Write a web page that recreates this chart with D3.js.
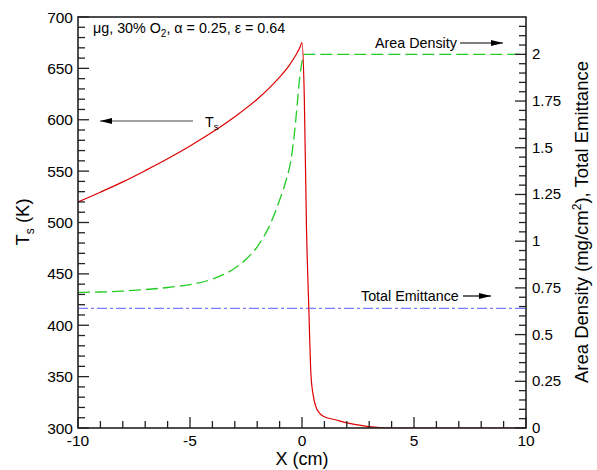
<!DOCTYPE html>
<html><head><meta charset="utf-8">
<script src="https://cdn.jsdelivr.net/npm/d3@7"></script>
<style>body{margin:0;background:#fff}svg{display:block}text{font-family:"Liberation Sans",Arial,sans-serif;fill:#000}</style>
</head><body><svg id="c" width="597" height="470"></svg>
<script>
// Surface temperature T_s (K) vs X (cm)
const tsX = [-10,-9,-8,-7,-6,-5,-4,-3,-2,-1.5,-1,-0.6,-0.3,-0.1,0,0.1,0.2,0.3,0.4,0.5,0.6,0.8,1.0,1.5,2,2.5,3,3.5,4,5,10];
const tsValues = [520,529.5,539.5,550.5,562,574.5,588,603,620,630,641.5,652,662,670,675,625,495,420,352,332,322,314,311,308,305,303,301.3,300.4,300,300,300];
// Area density (mg/cm^2) vs X
const adX = [-10,-9,-8,-7,-6,-5,-4,-3.5,-3,-2.5,-2,-1.5,-1,-0.7,-0.5,-0.3,-0.2,-0.1,0,0.1,10];
const adValues = [0.726,0.728,0.733,0.741,0.752,0.768,0.797,0.822,0.855,0.903,0.97,1.07,1.22,1.33,1.43,1.62,1.75,1.88,1.96,2.0,2.0];
// Total emittance
const emX = [-10,10];
const emValues = [0.64,0.64];
// Axis ticks
const xTickLabels = [-10,-5,0,5,10];
const yLeftTickLabels = [300,350,400,450,500,550,600,650,700];
const yRightTickLabels = [0,0.25,0.5,0.75,1,1.25,1.5,1.75,2];

const svg = d3.select("#c");
const L=78, R=526, T=17, B=428;
const x = d3.scaleLinear().domain([-10,10]).range([L,R]);
const yL = d3.scaleLinear().domain([300,700]).range([B,T]);
const yR = d3.scaleLinear().domain([0,2.2]).range([B,T]);

svg.append("defs").append("marker").attr("id","ah").attr("viewBox","0 0 12 6")
  .attr("refX",12).attr("refY",3).attr("markerWidth",12).attr("markerHeight",6)
  .attr("markerUnits","userSpaceOnUse").attr("orient","auto")
  .append("path").attr("d","M0,0L12,3L0,6Z").attr("fill","#000");

// curves
svg.append("clipPath").attr("id","clp").append("rect").attr("x",L).attr("y",T).attr("width",R-L).attr("height",B-T);
const g = svg.append("g").attr("clip-path","url(#clp)");
g.append("path").datum(emX.map((v,i)=>[v,emValues[i]]))
  .attr("d",d3.line().x(d=>x(d[0])).y(d=>yR(d[1])))
  .attr("fill","none").attr("stroke","#7b7bff").attr("stroke-width",1.3).attr("stroke-dasharray","10,3,3,3");
g.append("path").datum(adX.map((v,i)=>[v,adValues[i]]))
  .attr("d",d3.line().x(d=>x(d[0])).y(d=>yR(d[1])).curve(d3.curveMonotoneX))
  .attr("fill","none").attr("stroke","#22cc22").attr("stroke-width",1.3).attr("stroke-dasharray","12,5");
g.append("path").datum(tsX.map((v,i)=>[v,tsValues[i]]))
  .attr("d",d3.line().x(d=>x(d[0])).y(d=>yL(d[1])).curve(d3.curveMonotoneX))
  .attr("fill","none").attr("stroke","#dd0000").attr("stroke-width",1.2);

// axes
const ax = svg.append("g").attr("stroke","#222").attr("stroke-width",1.3);
ax.append("rect").attr("x",L).attr("y",T).attr("width",R-L).attr("height",B-T).attr("fill","none").attr("stroke-width",1.6);
d3.range(-10,10.01,1).forEach(v=>{const maj = xTickLabels.includes(v);
  ax.append("line").attr("x1",x(v)).attr("x2",x(v)).attr("y1",B).attr("y2",B-(maj?11:7));});
d3.range(300,700.01,10).forEach(v=>{const maj = v%50===0;
  ax.append("line").attr("x1",L).attr("x2",L+(maj?11:7)).attr("y1",yL(v)).attr("y2",yL(v));});
d3.range(0,44).map(i=>i*0.05).forEach((v,i)=>{const maj = i%5===0;
  ax.append("line").attr("x1",R).attr("x2",R-(maj?11:7)).attr("y1",yR(v)).attr("y2",yR(v));});

// tick labels
svg.append("g").selectAll("text").data(xTickLabels).join("text")
  .attr("x",d=>x(d)).attr("y",B+18).attr("text-anchor","middle").attr("font-size",15.5).text(d=>d);
svg.append("g").selectAll("text").data(yLeftTickLabels).join("text")
  .attr("x",L-5).attr("y",d=>yL(d)+5.5).attr("text-anchor","end").attr("font-size",15.5).text(d=>d);
svg.append("g").selectAll("text").data(yRightTickLabels).join("text")
  .attr("x",R+6).attr("y",d=>yR(d)+5).attr("text-anchor","start").attr("font-size",15).text(d=>d);

// axis titles
svg.append("text").attr("x",(L+R)/2).attr("y",465).attr("text-anchor","middle").attr("font-size",18).text("X (cm)");
const yl = svg.append("text").attr("transform","translate(29,222) rotate(-90)").attr("text-anchor","middle").attr("font-size",18.5);
yl.append("tspan").text("T");
yl.append("tspan").attr("font-size",12).attr("dy",5).text("s");
yl.append("tspan").attr("dy",-5).text(" (K)");
const yr = svg.append("text").attr("transform","translate(588,222) rotate(-90)").attr("text-anchor","middle").attr("font-size",18.5);
yr.append("tspan").text("Area Density (mg/cm");
yr.append("tspan").attr("font-size",12).attr("dy",-7).text("2");
yr.append("tspan").attr("dy",7).text("), Total Emittance");

// title annotation
const tt = svg.append("text").attr("x",93).attr("y",33).attr("font-size",14.3);
tt.append("tspan").text("\u03bcg, 30% O");
tt.append("tspan").attr("font-size",10).attr("dy",4).text("2");
tt.append("tspan").attr("dy",-4).text(", \u03b1 = 0.25, \u03b5 = 0.64");

// annotations
svg.append("text").attr("x",375).attr("y",48).attr("font-size",14.3).text("Area Density");
svg.append("line").attr("x1",460).attr("x2",503).attr("y1",43).attr("y2",43).attr("stroke","#000").attr("stroke-width",1.2).attr("marker-end","url(#ah)");
svg.append("text").attr("x",361).attr("y",301).attr("font-size",14.3).text("Total Emittance");
svg.append("line").attr("x1",463).attr("x2",491).attr("y1",296).attr("y2",296).attr("stroke","#000").attr("stroke-width",1.2).attr("marker-end","url(#ah)");
const ts = svg.append("text").attr("x",205).attr("y",127).attr("font-size",14.3);
ts.append("tspan").text("T");
ts.append("tspan").attr("font-size",9.5).attr("dy",3).text("s");
svg.append("line").attr("x1",193).attr("x2",100).attr("y1",121).attr("y2",121).attr("stroke","#444").attr("stroke-width",1.2).attr("marker-end","url(#ah)");
</script></body></html>
